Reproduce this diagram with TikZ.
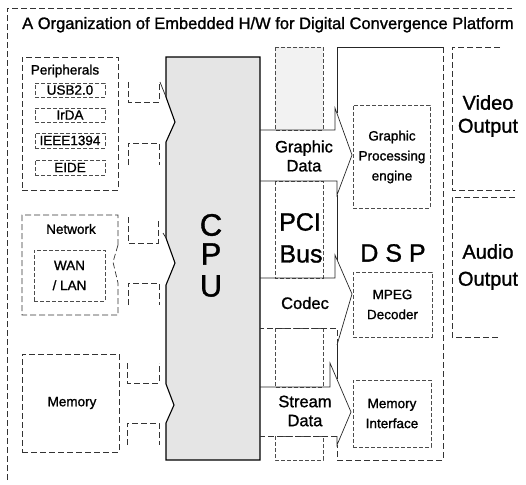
\documentclass[tikz,border=0pt]{standalone}
\usepackage{fontspec}
\setmainfont[FakeBold=1.2]{Liberation Sans}
\begin{document}
\begin{tikzpicture}[x=1pt,y=-1pt,
  dbox/.style={draw=black!80, line width=0.7pt, dash pattern=on 6pt off 3pt},
  fbox/.style={draw=black!70, line width=0.6pt, dash pattern=on 4pt off 2pt},
  edge/.style={draw=black, line width=1.1pt},
  thin/.style={draw=black!85, line width=0.7pt},
  sm/.style={font=\fontsize{13.5}{20}\selectfont, inner sep=0pt, align=center},
  bd/.style={font=\fontsize{16.5}{19}\selectfont, inner sep=0pt, align=center},
  bg/.style={font=\fontsize{20}{23}\selectfont, inner sep=0pt, align=center},
  huge/.style={font=\fontsize{31}{31}\selectfont, inner sep=0pt},
  boxn/.style={fbox, rectangle, inner sep=0pt, font=\fontsize{13.5}{15}\selectfont},
]
\useasboundingbox (0,0) rectangle (526,484);
% outer frame
\draw[dbox] (7,480) -- (7,8) -- (512,8);
\node[font=\fontsize{16.5}{18}\selectfont, anchor=base west, inner sep=0pt] (title) at (22,29) {A Organization of Embedded H/W for Digital Convergence Platform};

% Peripherals
\node[dbox, rectangle, minimum width=96pt, minimum height=133pt, inner sep=0pt] (per) at (70,123.5) {};
\node[sm] (perl) at (65,71) {Peripherals};
\node[boxn, minimum width=70pt, minimum height=14pt] (usb) at (70,90) {USB2.0};
\node[boxn, minimum width=70pt, minimum height=14pt] (irda) at (70,115) {IrDA};
\node[boxn, minimum width=70pt, minimum height=15pt] (ieee) at (70,140.5) {IEEE1394};
\node[boxn, minimum width=70pt, minimum height=15pt] (eide) at (70,167.5) {EIDE};

% Network
\draw[dbox] (118,245) -- (118,215) -- (22,215) -- (22,315) -- (118,315) -- (118,283) -- (113,262) -- cycle;
\node[sm] (netl) at (71,229) {Network};
\node[boxn, minimum width=71pt, minimum height=51pt, font=\fontsize{13.5}{20}\selectfont, align=center] (wan) at (69.5,275.5) {WAN\\/ LAN};

% Memory
\node[dbox, rectangle, minimum width=97pt, minimum height=98pt, inner sep=0pt] (mem) at (70.5,403) {};
\node[sm] (meml) at (72,403) {Memory};

% bracket arrow bodies
\draw[dbox] (128,82) -- (128,102) -- (159,102) -- (159,82);
\draw[dbox] (128,165) -- (128,143) -- (159,143) -- (159,165);
\draw[dbox] (128,217) -- (128,243) -- (158,243) -- (158,220);
\draw[dbox] (128,305) -- (128,283) -- (159,283) -- (159,305);
\draw[dbox] (127,363) -- (127,383) -- (159,383) -- (159,363);
\draw[dbox] (127,445) -- (127,423) -- (159,423) -- (159,445);

% CPU
\draw[edge, fill=black!10] (166,57) -- (260,57) -- (260,460) -- (166,460) -- (166,423) -- (174,405) -- (166,384)
  -- (166,285) -- (175,263) -- (166,238) -- (166,142) -- (175,122) -- (166,97) -- cycle;
\draw[thin] (160,82) -- (166,97);
\draw[thin] (163,233) -- (166,238);
\node[huge] (c) at (211,225) {C};
\node[huge] (p) at (211,254) {P};
\node[huge] (u) at (211,286) {U};

% PCI bus column
\draw[fbox, fill=black!5] (275,47) rectangle (323,130);
\draw[fbox] (275,181) rectangle (323,278);
\draw[fbox] (275,328) rectangle (323,387);
\draw[fbox] (275,436) rectangle (323,460);
\node[font=\fontsize{25}{25}\selectfont, inner sep=0pt] (pci) at (300,222) {PCI};
\node[font=\fontsize{25}{25}\selectfont, inner sep=0pt] (bus) at (301,254) {Bus};

% bands with arrow heads
\draw[thin] (260,181) -- (337,181) -- (337,195) -- (352,155) -- (335,108) -- (335,130) -- (260,130);
\draw[thin] (260,278) -- (335,278) -- (335,255) -- (352,294) -- (337,345);
\draw[dbox] (337,345) -- (337,328) -- (260,328);
\draw[thin] (260,387) -- (330,387) -- (330,363) -- (351,412) -- (337,445) -- (337,436);
\draw[dbox] (337,436) -- (260,436);
\node[bd] (gdata) at (304,156) {Graphic\\Data};
\node[bd] (codec) at (305,303) {Codec};
\node[bd] (sdata) at (305,411) {Stream\\Data};

% DSP
\draw[thin] (337,113) -- (337,47) -- (443,47);
\draw[dbox] (443,47) -- (443,460) -- (337,460) -- (337,445);
\draw[thin] (337,195) -- (337,260);
\draw[thin] (337,345) -- (337,379);
\node[font=\fontsize{25}{25}\selectfont, inner sep=0pt] (dsp) at (393,253) {D S P};
\node[fbox, rectangle, minimum width=77pt, minimum height=103pt, inner sep=0pt] (gpe) at (391.5,156.5) {};
\node[sm] (gpel) at (392,157) {Graphic\\Processing\\engine};
\node[fbox, rectangle, minimum width=79pt, minimum height=65pt, inner sep=0pt, sm] (mpeg) at (392.5,304.5) {MPEG\\Decoder};
\node[fbox, rectangle, minimum width=78pt, minimum height=67pt, inner sep=0pt, sm] (memif) at (392,413.5) {Memory\\Interface};

% outputs
\draw[dbox] (500,47) -- (452,47) -- (452,190) -- (515,190);
\node[bg] (video) at (488,116) {Video\\Output};
\draw[dbox] (515,197) -- (452,197) -- (452,337) -- (500,337);
\node[font=\fontsize{20}{27}\selectfont, inner sep=0pt, align=center] (audio) at (488,267) {Audio\\Output};
\end{tikzpicture}
\end{document}
